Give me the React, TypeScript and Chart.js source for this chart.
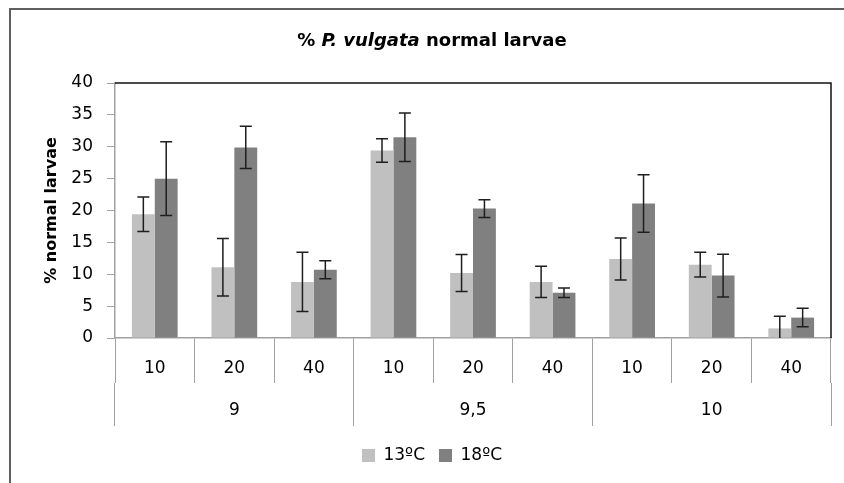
import React, { useEffect, useRef } from 'react';
import { Chart, registerables } from 'chart.js';

Chart.register(...registerables);

// ---- data ----
const subCategories = ['10', '20', '40', '10', '20', '40', '10', '20', '40'];
const groupLabels = ['9', '9,5', '10'];
const seriesNames = ['13ºC', '18ºC'];
const values13 = [19.4, 11.1, 8.8, 29.4, 10.2, 8.8, 12.4, 11.5, 1.5];
const errors13 = [2.7, 4.5, 4.65, 1.85, 2.9, 2.45, 3.3, 1.95, 1.9];
const values18 = [25.0, 29.9, 10.7, 31.5, 20.3, 7.1, 21.1, 9.8, 3.2];
const errors18 = [5.8, 3.3, 1.4, 3.8, 1.4, 0.75, 4.5, 3.35, 1.45];
const yMin = 0;
const yMax = 40;
const yStep = 5;
const titleParts = [
  { text: '% ', italic: false },
  { text: 'P. vulgata', italic: true },
  { text: ' normal larvae', italic: false },
];
const yTitle = '% normal larvae';

const FONT = "'DejaVu Sans', 'Liberation Sans', sans-serif";
const colors = ['#c0c0c0', '#808080'];
const allErrors = [errors13, errors18];

const framePlugin = {
  id: 'frame',
  beforeDraw(chart: any) {
    const ctx = chart.ctx;
    ctx.save();
    ctx.strokeStyle = '#5f5f5f';
    ctx.lineWidth = 2;
    ctx.beginPath();
    ctx.moveTo(10, chart.height);
    ctx.lineTo(10, 9);
    ctx.lineTo(chart.width, 9);
    ctx.stroke();
    ctx.restore();
  },
  afterDraw(chart: any) {
    const ctx = chart.ctx;
    const a = chart.chartArea;
    ctx.save();
    ctx.strokeStyle = '#111';
    ctx.lineWidth = 1.5;
    ctx.beginPath();
    ctx.moveTo(a.left, a.top);
    ctx.lineTo(a.right, a.top);
    ctx.lineTo(a.right, a.bottom);
    ctx.stroke();
    // rich title
    const cx = (chart.options.layout.padding.left + chart.width - chart.options.layout.padding.right) / 2;
    const y = 41;
    const fontFor = (it: boolean) => `${it ? 'italic ' : ''}bold 18px ${FONT}`;
    let total = 0;
    const widths = titleParts.map((p) => {
      ctx.font = fontFor(p.italic);
      const w = ctx.measureText(p.text).width;
      total += w;
      return w;
    });
    let x = cx - total / 2;
    ctx.fillStyle = '#000';
    ctx.textBaseline = 'middle';
    ctx.textAlign = 'left';
    titleParts.forEach((p, i) => {
      ctx.font = fontFor(p.italic);
      ctx.fillText(p.text, x, y);
      x += widths[i];
    });
    ctx.restore();
  },
};

const errorBarPlugin = {
  id: 'errorBars',
  afterDatasetsDraw(chart: any) {
    const ctx = chart.ctx;
    const yScale = chart.scales.y;
    const a = chart.chartArea;
    ctx.save();
    ctx.beginPath();
    ctx.rect(a.left, a.top, a.right - a.left, a.bottom - a.top);
    ctx.clip();
    ctx.strokeStyle = '#1e1e1e';
    ctx.lineWidth = 1.5;
    chart.data.datasets.forEach((ds: any, di: number) => {
      const meta = chart.getDatasetMeta(di);
      meta.data.forEach((el: any, j: number) => {
        const v = ds.data[j];
        const e = allErrors[di][j];
        const yt = yScale.getPixelForValue(v + e);
        const yb = yScale.getPixelForValue(v - e);
        const x = el.x;
        const cap = 6;
        ctx.beginPath();
        ctx.moveTo(x, yt);
        ctx.lineTo(x, yb);
        ctx.moveTo(x - cap, yt);
        ctx.lineTo(x + cap, yt);
        ctx.moveTo(x - cap, yb);
        ctx.lineTo(x + cap, yb);
        ctx.stroke();
      });
    });
    ctx.restore();
  },
};

export default function App() {
  const ref = useRef<HTMLCanvasElement | null>(null);
  useEffect(() => {
    if (!ref.current) return;
    const chart = new Chart(ref.current, {
      type: 'bar',
      data: {
        labels: subCategories,
        datasets: [
          { label: seriesNames[0], data: values13, backgroundColor: colors[0], borderWidth: 0, categoryPercentage: 0.575, barPercentage: 1 },
          { label: seriesNames[1], data: values18, backgroundColor: colors[1], borderWidth: 0, categoryPercentage: 0.575, barPercentage: 1 },
        ],
      },
      options: {
        animation: false,
        responsive: false,
        maintainAspectRatio: false,
        layout: { padding: { left: 33, right: 13, top: 83, bottom: 9 } },
        plugins: {
          title: { display: false },
          tooltip: { enabled: false },
          legend: {
            position: 'bottom',
            labels: {
              boxWidth: 13,
              boxHeight: 13,
              padding: 14,
              color: '#000',
              font: { family: FONT, size: 17 },
            },
          },
        },
        scales: {
          x: {
            type: 'category',
            position: 'bottom',
            offset: true,
            grid: { display: true, drawOnChartArea: false, drawTicks: true, tickLength: 45, offset: true, color: '#a0a0a0', lineWidth: 1 },
            border: { display: true, color: '#a0a0a0', width: 1.5 },
            ticks: { color: '#000', font: { family: FONT, size: 17 }, padding: -25, maxRotation: 0, autoSkip: false },
            afterFit: (s: any) => { s.height = 45; },
          },
          x2: {
            type: 'category',
            position: 'bottom',
            labels: groupLabels,
            offset: true,
            grid: { display: true, drawOnChartArea: false, drawTicks: true, tickLength: 43, offset: true, color: '#a0a0a0', lineWidth: 1 },
            border: { display: false },
            ticks: { color: '#000', font: { family: FONT, size: 17 }, padding: -26, maxRotation: 0, autoSkip: false },
            afterFit: (s: any) => { s.height = 50; },
          },
          y: {
            min: yMin,
            max: yMax,
            ticks: { stepSize: yStep, color: '#000', font: { family: FONT, size: 17 }, padding: 14 },
            grid: { display: true, drawOnChartArea: false, drawTicks: true, tickLength: 8, color: '#a0a0a0' },
            border: { display: true, color: '#a0a0a0', width: 1.5 },
            title: { display: true, text: yTitle, color: '#000', font: { family: FONT, size: 16, weight: 'bold' }, padding: { top: 9, bottom: 0 } },
            afterFit: (s: any) => { s.width = 82; },
          },
        },
      },
      plugins: [framePlugin, errorBarPlugin],
    } as any);
    return () => chart.destroy();
  }, []);
  return (
    <div style={{ position: 'absolute', left: 0, top: 0, width: 844, height: 483, background: '#fff' }}>
      <canvas ref={ref} width={844} height={483} style={{ display: 'block' }} />
    </div>
  );
}
